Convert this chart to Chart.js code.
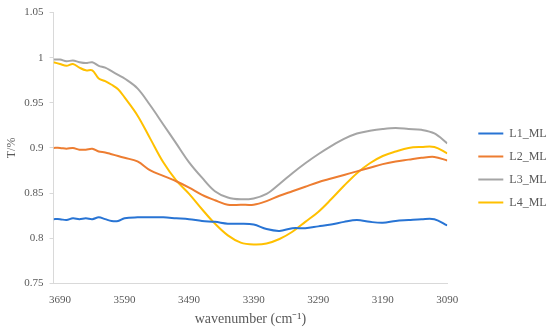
<!DOCTYPE html>
<html>
<head>
<meta charset="utf-8">
<script src="https://cdn.jsdelivr.net/npm/chart.js@4/dist/chart.umd.min.js"></script>
<style>
  html, body { margin: 0; padding: 0; background: #ffffff; }
  #wrap { width: 550px; height: 331px; position: relative; }
</style>
</head>
<body>
<div id="wrap"><canvas id="c" width="550" height="331"></canvas></div>
<script>
// Wavenumbers (cm-1)
const WAVENUMBERS = [3700, 3690, 3680, 3670, 3660, 3650, 3640, 3630, 3620, 3610, 3600, 3590,
  3570, 3550, 3530, 3510, 3490, 3470, 3450, 3430, 3410, 3390, 3370, 3350, 3330, 3310, 3290,
  3270, 3250, 3230, 3210, 3190, 3170, 3150, 3130, 3110, 3090];

const SERIES_NAMES = ['L1_ML', 'L2_ML', 'L3_ML', 'L4_ML'];

const L1_ML = [0.821, 0.821, 0.820, 0.822, 0.821, 0.822, 0.821, 0.823, 0.821, 0.819, 0.819, 0.822,
  0.823, 0.823, 0.823, 0.822, 0.821, 0.819, 0.818, 0.816, 0.816, 0.815, 0.810, 0.808, 0.811, 0.811,
  0.813, 0.815, 0.818, 0.820, 0.818, 0.817, 0.819, 0.820, 0.821, 0.821, 0.814];

const L2_ML = [0.900, 0.900, 0.899, 0.900, 0.898, 0.898, 0.899, 0.896, 0.895, 0.893, 0.891, 0.889,
  0.885, 0.875, 0.869, 0.863, 0.856, 0.848, 0.842, 0.837, 0.837, 0.837, 0.841, 0.847, 0.852, 0.857,
  0.862, 0.866, 0.870, 0.874, 0.878, 0.882, 0.885, 0.887, 0.889, 0.890, 0.886];

const L3_ML = [0.998, 0.998, 0.996, 0.997, 0.995, 0.994, 0.995, 0.991, 0.989, 0.985, 0.981, 0.977,
  0.966, 0.947, 0.926, 0.905, 0.884, 0.867, 0.852, 0.845, 0.843, 0.844, 0.849, 0.860, 0.872, 0.883,
  0.893, 0.902, 0.910, 0.916, 0.919, 0.921, 0.922, 0.921, 0.920, 0.916, 0.905];

const L4_ML = [0.995, 0.993, 0.991, 0.993, 0.989, 0.986, 0.986, 0.977, 0.974, 0.970, 0.965, 0.956,
  0.936, 0.910, 0.884, 0.864, 0.849, 0.832, 0.816, 0.803, 0.795, 0.793, 0.794, 0.799, 0.807, 0.818,
  0.829, 0.843, 0.858, 0.872, 0.883, 0.891, 0.896, 0.900, 0.901, 0.901, 0.894];

const COLORS = ['#2874D4', '#ED7D31', '#A5A5A5', '#FFC000'];

const X_TICKS = [3690, 3590, 3490, 3390, 3290, 3190, 3090];
const Y_TICKS = [0.75, 0.8, 0.85, 0.9, 0.95, 1, 1.05];
const Y_TICK_LABELS = ['0.75', '0.8', '0.85', '0.9', '0.95', '1', '1.05'];

const X_TITLE = 'wavenumber (cm\u207B\u00B9)';
const Y_TITLE = 'T/%';

const seriesValues = [L1_ML, L2_ML, L3_ML, L4_ML];

const datasets = SERIES_NAMES.map((name, i) => ({
  label: name,
  data: WAVENUMBERS.map((w, j) => ({ x: w, y: seriesValues[i][j] })),
  borderColor: COLORS[i],
  backgroundColor: COLORS[i],
  borderWidth: 2,
  pointRadius: 0,
  pointHoverRadius: 0,
  tension: 0.35,
  fill: false
}));

Chart.defaults.font.family = "'Liberation Serif', 'Times New Roman', serif";
Chart.defaults.color = '#595959';

const AXIS_COLOR = '#D9D9D9';

new Chart(document.getElementById('c'), {
  type: 'line',
  data: { datasets },
  options: {
    responsive: false,
    animation: false,
    events: [],
    layout: { padding: { top: 10, right: 0, bottom: 5, left: 0 } },
    plugins: {
      tooltip: { enabled: false },
      legend: {
        position: 'right',
        align: 'center',
        maxWidth: 82.7,
        labels: {
          usePointStyle: true,
          pointStyle: 'line',
          pointStyleWidth: 25,
          padding: 11,
          color: '#595959',
          font: { size: 12 }
        }
      }
    },
    scales: {
      x: {
        type: 'linear',
        reverse: true,
        min: 3090,
        max: 3700,
        afterBuildTicks: (s) => { s.ticks = X_TICKS.map(v => ({ value: v })); },
        ticks: {
          autoSkip: false,
          maxRotation: 0,
          padding: 10,
          font: { size: 11 },
          color: '#595959',
          callback: (v) => String(v)
        },
        grid: { display: false, drawTicks: false },
        border: { display: true, color: AXIS_COLOR, width: 1 },
        title: {
          display: true,
          text: X_TITLE,
          font: { size: 14 },
          color: '#595959',
          padding: { top: -5.2, bottom: -2 }
        }
      },
      y: {
        type: 'linear',
        position: 'left',
        min: 0.75,
        max: 1.05,
        afterBuildTicks: (s) => { s.ticks = Y_TICKS.map(v => ({ value: v })); },
        ticks: {
          padding: 6,
          font: { size: 11 },
          color: '#595959',
          callback: (v, i) => Y_TICK_LABELS[i]
        },
        grid: {
          display: true,
          drawOnChartArea: false,
          drawTicks: true,
          tickLength: 4,
          color: AXIS_COLOR
        },
        border: { display: true, color: AXIS_COLOR, width: 1 },
        title: {
          display: true,
          text: Y_TITLE,
          font: { size: 12 },
          color: '#595959',
          padding: { top: 4.5, bottom: -0.6 }
        }
      },
      gap: {
        type: 'linear',
        position: 'right',
        display: true,
        ticks: { display: false },
        grid: { display: false, drawTicks: false },
        border: { display: false },
        afterFit: (s) => { s.width = 20; }
      }
    }
  }
});
</script>
</body>
</html>
